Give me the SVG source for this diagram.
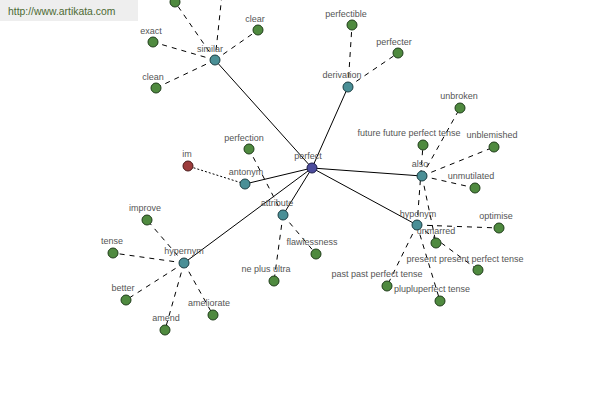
<svg xmlns="http://www.w3.org/2000/svg" width="600" height="400" viewBox="0 0 600 400">
<style>
.s{stroke:#000;stroke-width:1;fill:none}
.d{stroke:#000;stroke-width:1;fill:none;stroke-dasharray:5,5}
.o{stroke:#000;stroke-width:1;fill:none;stroke-dasharray:2,2}
.g{fill:#4f8a3f;stroke:#1f3d1a;stroke-width:1}
.t{fill:#4a8f96;stroke:#1d3f44;stroke-width:1}
.b{fill:#4c4c9c;stroke:#1c1c4c;stroke-width:1}
.r{fill:#9c3c3c;stroke:#4a1a1a;stroke-width:1}
text{font-family:"Liberation Sans",Arial,sans-serif;font-size:9px;fill:#555;text-anchor:middle}
</style>
<rect x="0" y="0" width="138" height="21" fill="#eeeeee"/>
<text x="8" y="15" style="font-size:10.4px;fill:#4d6a33;text-anchor:start">http://www.artikata.com</text>
<g id="connectors">
<line class="s" x1="312" y1="168" x2="215" y2="60"/>
<line class="s" x1="312" y1="168" x2="348" y2="87"/>
<line class="s" x1="312" y1="168" x2="245" y2="184"/>
<line class="s" x1="312" y1="168" x2="283" y2="215"/>
<line class="s" x1="312" y1="168" x2="422" y2="176"/>
<line class="s" x1="312" y1="168" x2="417" y2="225"/>
<line class="s" x1="312" y1="168" x2="184" y2="263"/>
<line class="d" x1="215" y1="60" x2="153" y2="42"/>
<line class="d" x1="215" y1="60" x2="258" y2="30"/>
<line class="d" x1="215" y1="60" x2="156" y2="88"/>
<line class="d" x1="215" y1="60" x2="175" y2="2"/>
<line class="d" x1="215" y1="60" x2="223" y2="-15"/>
<line class="d" x1="348" y1="87" x2="352" y2="25"/>
<line class="d" x1="348" y1="87" x2="398" y2="53"/>
<line class="o" x1="245" y1="184" x2="188" y2="166"/>
<line class="d" x1="283" y1="215" x2="249" y2="149"/>
<line class="d" x1="283" y1="215" x2="316" y2="254"/>
<line class="d" x1="283" y1="215" x2="274" y2="281"/>
<line class="d" x1="422" y1="176" x2="460" y2="108"/>
<line class="d" x1="422" y1="176" x2="494" y2="147"/>
<line class="d" x1="422" y1="176" x2="475" y2="188"/>
<line class="d" x1="422" y1="176" x2="436" y2="243"/>
<line class="d" x1="417" y1="225" x2="423" y2="145"/>
<line class="d" x1="417" y1="225" x2="499" y2="228"/>
<line class="d" x1="417" y1="225" x2="478" y2="270"/>
<line class="d" x1="417" y1="225" x2="387" y2="286"/>
<line class="d" x1="417" y1="225" x2="440" y2="301"/>
<line class="d" x1="184" y1="263" x2="147" y2="220"/>
<line class="d" x1="184" y1="263" x2="113" y2="253"/>
<line class="d" x1="184" y1="263" x2="126" y2="300"/>
<line class="d" x1="184" y1="263" x2="165" y2="330"/>
<line class="d" x1="184" y1="263" x2="213" y2="315"/>
</g>
<g id="n-top"><circle class="g" cx="175" cy="2" r="5"/></g>
<g id="n-exact"><circle class="g" cx="153" cy="42" r="5"/><text x="151" y="34">exact</text></g>
<g id="n-clear"><circle class="g" cx="258" cy="30" r="5"/><text x="255" y="22">clear</text></g>
<g id="n-clean"><circle class="g" cx="156" cy="88" r="5"/><text x="153" y="80">clean</text></g>
<g id="n-similar"><circle class="t" cx="215" cy="60" r="5"/><text x="210" y="52">similar</text></g>
<g id="n-perfectible"><circle class="g" cx="352" cy="25" r="5"/><text x="346" y="17">perfectible</text></g>
<g id="n-perfecter"><circle class="g" cx="398" cy="53" r="5"/><text x="394" y="45">perfecter</text></g>
<g id="n-derivation"><circle class="t" cx="348" cy="87" r="5"/><text x="342" y="78">derivation</text></g>
<g id="n-unbroken"><circle class="g" cx="460" cy="108" r="5"/><text x="459" y="99">unbroken</text></g>
<g id="n-perfection"><circle class="g" cx="249" cy="149" r="5"/><text x="244" y="141">perfection</text></g>
<g id="n-im"><circle class="r" cx="188" cy="166" r="5"/><text x="187" y="157">im</text></g>
<g id="n-antonym"><circle class="t" cx="245" cy="184" r="5"/><text x="246" y="175">antonym</text></g>
<g id="n-attribute"><circle class="t" cx="283" cy="215" r="5"/><text x="277" y="206">attribute</text></g>
<g id="n-flawlessness"><circle class="g" cx="316" cy="254" r="5"/><text x="312" y="245">flawlessness</text></g>
<g id="n-neplusultra"><circle class="g" cx="274" cy="281" r="5"/><text x="266" y="272">ne plus ultra</text></g>
<g id="n-future"><circle class="g" cx="423" cy="145" r="5"/><text x="409" y="136">future future perfect tense</text></g>
<g id="n-unblemished"><circle class="g" cx="494" cy="147" r="5"/><text x="492" y="138">unblemished</text></g>
<g id="n-unmutilated"><circle class="g" cx="475" cy="188" r="5"/><text x="471" y="179">unmutilated</text></g>
<g id="n-also"><circle class="t" cx="422" cy="176" r="5"/><text x="420" y="167">also</text></g>
<g id="n-optimise"><circle class="g" cx="499" cy="228" r="5"/><text x="496" y="219">optimise</text></g>
<g id="n-unmarred"><circle class="g" cx="436" cy="243" r="5"/><text x="436" y="234">unmarred</text></g>
<g id="n-present"><circle class="g" cx="478" cy="270" r="5"/><text x="465" y="262">present present perfect tense</text></g>
<g id="n-past"><circle class="g" cx="387" cy="286" r="5"/><text x="377" y="277">past past perfect tense</text></g>
<g id="n-pluplu"><circle class="g" cx="440" cy="301" r="5"/><text x="432" y="292">plupluperfect tense</text></g>
<g id="n-hyponym"><circle class="t" cx="417" cy="225" r="5"/><text x="418" y="217">hyponym</text></g>
<g id="n-improve"><circle class="g" cx="147" cy="220" r="5"/><text x="145" y="211">improve</text></g>
<g id="n-tense"><circle class="g" cx="113" cy="253" r="5"/><text x="112" y="244">tense</text></g>
<g id="n-better"><circle class="g" cx="126" cy="300" r="5"/><text x="123" y="291">better</text></g>
<g id="n-ameliorate"><circle class="g" cx="213" cy="315" r="5"/><text x="209" y="306">ameliorate</text></g>
<g id="n-amend"><circle class="g" cx="165" cy="330" r="5"/><text x="166" y="321">amend</text></g>
<g id="n-hypernym"><circle class="t" cx="184" cy="263" r="5"/><text x="184" y="254">hypernym</text></g>
<g id="n-perfect"><circle class="b" cx="312" cy="168" r="5"/><text x="308" y="159">perfect</text></g>
</svg>
